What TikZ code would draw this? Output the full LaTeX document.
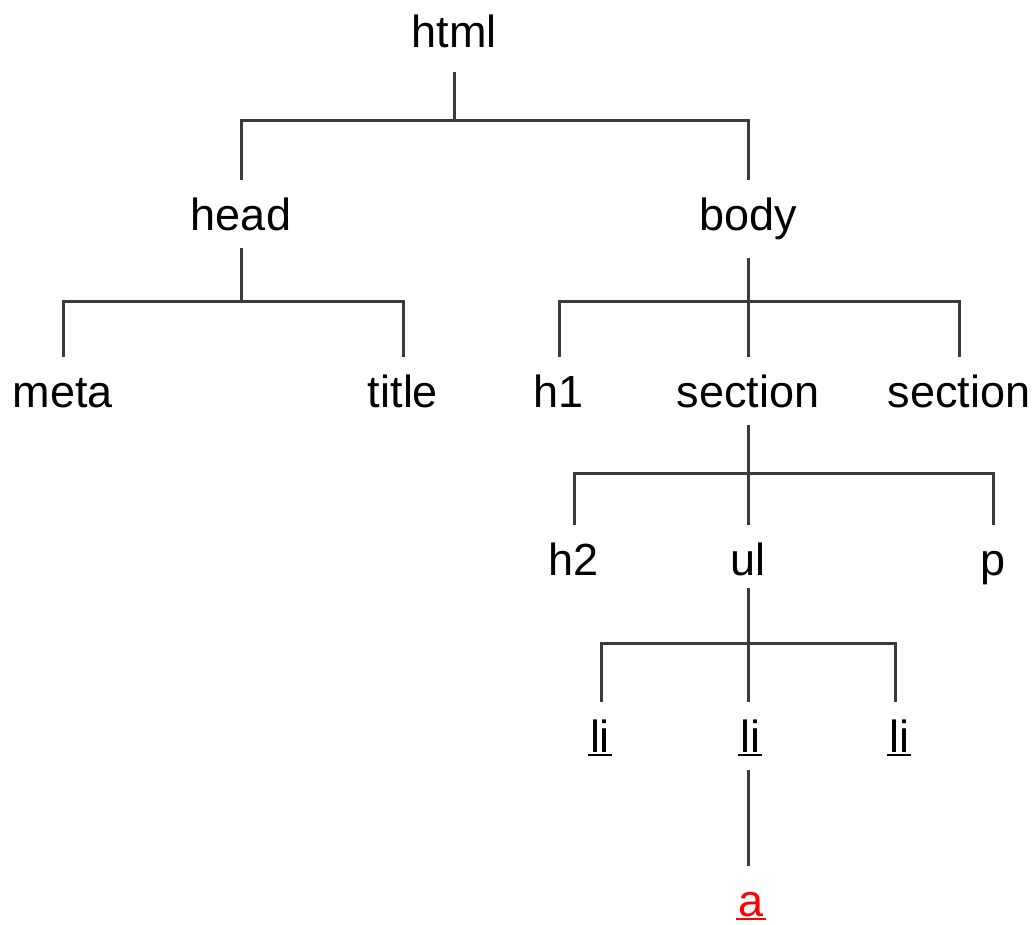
\documentclass[tikz,border=0pt]{standalone}
\usepackage{fontspec}
\setmainfont{Liberation Sans}
\definecolor{linegray}{HTML}{3A3A3A}
\definecolor{ared}{HTML}{FF0000}
\newcommand\myul[1]{\leavevmode\vtop{\hbox{\kern2pt#1\kern2pt}\kern2pt\hrule height 2pt}}
\begin{document}
\begin{tikzpicture}[x=1pt,y=-1pt,
  tag/.style={anchor=base, inner xsep=0pt, inner ysep=18pt, text height=32pt, text depth=0pt,
    font=\fontsize{45}{54}\selectfont},
  conn/.style={draw=linegray, line width=3pt, line join=miter}]
\useasboundingbox (0,0) rectangle (1036,924);
% nodes
\node[tag] (html) at (454,47) {html};
\node[tag] (head) at (241,230) {head};
\node[tag] (body) at (748,230) {body};
\node[tag] (meta) at (63,407) {meta};
\node[tag] (title) at (403,407) {title};
\node[tag] (h1) at (559,407) {h1};
\node[tag] (sec1) at (748,407) {section};
\node[tag] (sec2) at (959,407) {section};
\node[tag] (h2) at (574,575) {h2};
\node[tag] (ul) at (748,575) {ul};
\node[tag] (p) at (993,575) {p};
\node[tag] (li1) at (600,752) {\myul{li}};
\node[tag] (li2) at (750,752) {\myul{li}};
\node[tag] (li3) at (899,752) {\myul{li}};
\node[tag, text=ared] (a) at (751,916) {\myul{a}};
% bus points
\coordinate (bhtml) at (454,120);
\coordinate (bhead) at (241,301);
\coordinate (bbody) at (748,301);
\coordinate (bsec) at (748,473);
\coordinate (bul) at (748,643);
% connectors
\draw[conn] ([yshift=-7pt]html.south) -- (bhtml);
\draw[conn] (head.north) |- (bhtml) -| (body.north);
\draw[conn] (head.south) -- (bhead);
\draw[conn] (meta.north) |- (bhead) -| (title.north);
\draw[conn] ([yshift=-10pt]body.south) -- (sec1.north);
\draw[conn] (h1.north) |- (bbody) -| (sec2.north);
\draw[conn] (sec1.south) -- (ul.north);
\draw[conn] (h2.north) |- (bsec) -| (p.north);
\draw[conn] ([yshift=5pt]ul.south) -- ([xshift=-2pt]li2.north);
\draw[conn] ([xshift=1pt]li1.north) |- (bul) -| ([xshift=-4pt]li3.north);
\draw[conn] ([xshift=-2pt]li2.south) -- ([xshift=-3pt]a.north);
\end{tikzpicture}
\end{document}
